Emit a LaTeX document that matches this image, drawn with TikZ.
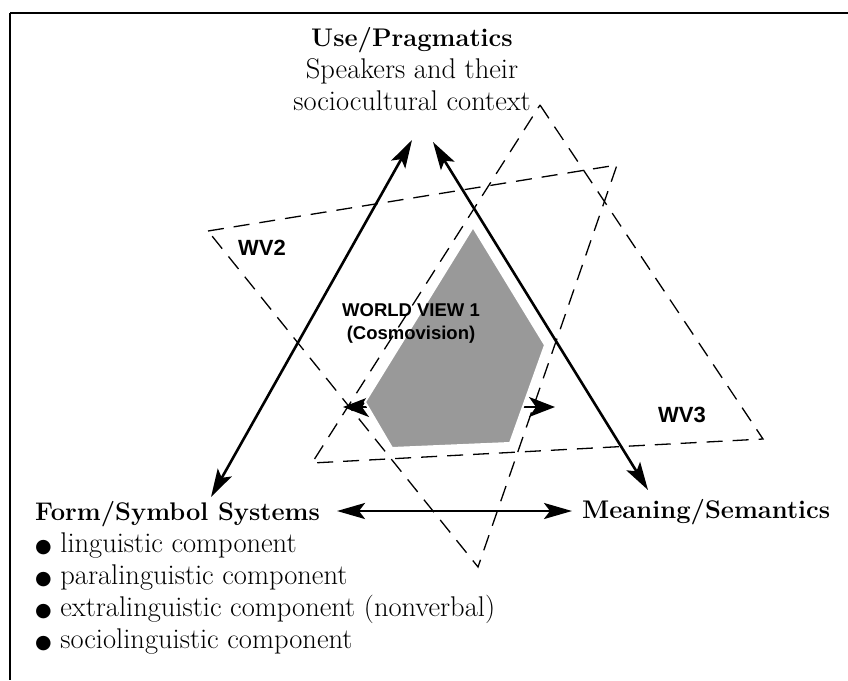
\documentclass[tikz,border=0pt]{standalone}
\usepackage{fontspec}
\usepackage{tikz}
\usetikzlibrary{arrows.meta, positioning}
\newfontfamily\symfont{DejaVu Sans}
\newfontfamily\labelfont{Liberation Sans}

\begin{document}
\begin{tikzpicture}[x=1pt, y=-1pt, node distance=32pt, on grid,
        heading/.style={font=\fontsize{25.5}{30}\selectfont\bfseries, inner sep=0pt, text height=17pt, text depth=6pt},
        body/.style={font=\fontsize{28.5}{32}\selectfont, inner sep=0pt, text height=17pt, text depth=6pt},
        wvlabel/.style={font=\labelfont\bfseries\fontsize{22}{26}\selectfont, inner sep=0pt, align=center},
        corelabel/.style={font=\labelfont\bfseries\fontsize{18.5}{23}\selectfont, inner sep=0pt, align=center},
        link/.style={line width=2.6pt, {Stealth[length=28pt, width=16pt, inset=6pt]}-{Stealth[length=28pt, width=16pt, inset=6pt]}},
        corelink/.style={line width=2pt, {Stealth[length=26pt, width=20pt, inset=7pt]}-{Stealth[length=26pt, width=20pt, inset=7pt]}},
        view/.style={line width=1.3pt, dash pattern=on 16pt off 10pt}]
        \useasboundingbox (0,0) rectangle (848,680);
        \draw[line width=2pt] (10,13) -- (848,13);
        \draw[line width=1.5pt] (10,13) -- (10,680);

        \node[heading] (use) at (412,41) {Use/Pragmatics};
        \node[body] (speak) [below=of use] {Speakers and their};
        \node[body] (ctx) [below=of speak] {sociocultural context};

        \node[heading, anchor=west] (form) at (35,515) {Form/Symbol Systems};
        \node[body] (b1) [below=of form.west, anchor=west] {{\symfont\fontsize{19}{19}\selectfont ●} linguistic component};
        \node[body] (b2) [below=of b1.west, anchor=west] {{\symfont\fontsize{19}{19}\selectfont ●} paralinguistic component};
        \node[body] (b3) [below=of b2.west, anchor=west] {{\symfont\fontsize{19}{19}\selectfont ●} extralinguistic component (nonverbal)};
        \node[body] (b4) [below=of b3.west, anchor=west] {{\symfont\fontsize{19}{19}\selectfont ●} sociolinguistic component};
        \node[heading, anchor=west] (mean) at (582,513) {Meaning/Semantics};

        \draw[view] (208,231) -- (617,165) -- (478,567) -- cycle;
        \draw[view] (540,105) -- (763,439) -- (312,463) -- cycle;

        \coordinate (coreL) at (343,407);
        \coordinate (coreR) at (555,407);
        \draw[corelink] (coreL) -- (coreR);
        \filldraw[fill=black!40, draw=white, line width=2pt]
            (473,227) -- (545,345) -- (510,443) -- (392,448) -- (365,402) -- cycle;

        \node[corelabel] (wv1) at (411,323) {WORLD VIEW 1\\(Cosmovision)};
        \node[wvlabel] (wv2) at (262,248) {WV2};
        \node[wvlabel] (wv3) at (682,415) {WV3};

        \coordinate (useL) at (412,140);
        \coordinate (useR) at (433,142);
        \coordinate (formT) at (211,497);
        \coordinate (meanT) at (648,490);
        \coordinate (formR) at (337,511);
        \coordinate (meanL) at (572,511);
        \draw[link] (formT) -- (useL);
        \draw[link] (useR) -- (meanT);
        \draw[link] (formR) -- (meanL);
    \end{tikzpicture}
\end{document}
